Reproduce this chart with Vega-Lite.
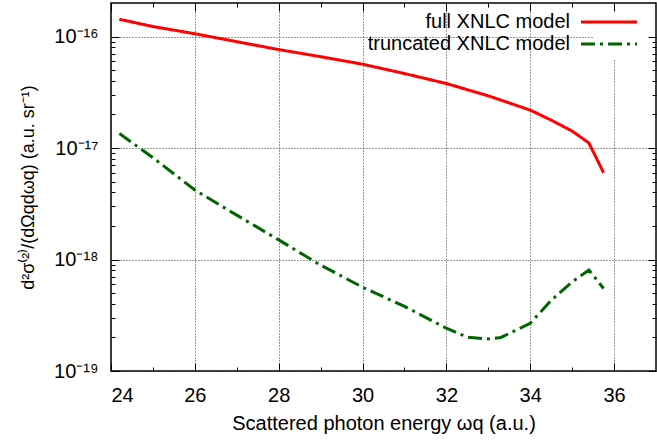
{
  "$schema": "https://vega.github.io/schema/vega-lite/v6.json",
  "width": 545,
  "height": 368,
  "autosize": {"type": "none"},
  "padding": {"left": 111, "top": 3, "right": 1, "bottom": 73},
  "data": {"values": [
    {"w": 24.2, "v": 1.43e-16, "model": "full XNLC model"},
    {"w": 25, "v": 1.23e-16, "model": "full XNLC model"},
    {"w": 26, "v": 1.06e-16, "model": "full XNLC model"},
    {"w": 27, "v": 9.0e-17, "model": "full XNLC model"},
    {"w": 28, "v": 7.64e-17, "model": "full XNLC model"},
    {"w": 29, "v": 6.6e-17, "model": "full XNLC model"},
    {"w": 30, "v": 5.65e-17, "model": "full XNLC model"},
    {"w": 31, "v": 4.66e-17, "model": "full XNLC model"},
    {"w": 32, "v": 3.79e-17, "model": "full XNLC model"},
    {"w": 33, "v": 2.94e-17, "model": "full XNLC model"},
    {"w": 34, "v": 2.19e-17, "model": "full XNLC model"},
    {"w": 34.5, "v": 1.78e-17, "model": "full XNLC model"},
    {"w": 35, "v": 1.42e-17, "model": "full XNLC model"},
    {"w": 35.4, "v": 1.11e-17, "model": "full XNLC model"},
    {"w": 35.75, "v": 6.0e-18, "model": "full XNLC model"},
    {"w": 24.2, "v": 1.35e-17, "model": "truncated XNLC model"},
    {"w": 25, "v": 8.2e-18, "model": "truncated XNLC model"},
    {"w": 26, "v": 4.2e-18, "model": "truncated XNLC model"},
    {"w": 27, "v": 2.5e-18, "model": "truncated XNLC model"},
    {"w": 28, "v": 1.5e-18, "model": "truncated XNLC model"},
    {"w": 29, "v": 8.9e-19, "model": "truncated XNLC model"},
    {"w": 30, "v": 5.65e-19, "model": "truncated XNLC model"},
    {"w": 31, "v": 3.8e-19, "model": "truncated XNLC model"},
    {"w": 32, "v": 2.42e-19, "model": "truncated XNLC model"},
    {"w": 32.5, "v": 2.01e-19, "model": "truncated XNLC model"},
    {"w": 33, "v": 1.94e-19, "model": "truncated XNLC model"},
    {"w": 33.3, "v": 2.0e-19, "model": "truncated XNLC model"},
    {"w": 34, "v": 2.68e-19, "model": "truncated XNLC model"},
    {"w": 34.5, "v": 4.3e-19, "model": "truncated XNLC model"},
    {"w": 35, "v": 6.3e-19, "model": "truncated XNLC model"},
    {"w": 35.4, "v": 8.05e-19, "model": "truncated XNLC model"},
    {"w": 35.75, "v": 5.5e-19, "model": "truncated XNLC model"}
  ]},
  "resolve": {"axis": {"x": "independent", "y": "independent"}},
  "layer": [
    {
      "mark": {"type": "point", "opacity": 0},
      "encoding": {
        "x": {"field": "w", "type": "quantitative", "scale": {"domain": [24, 37], "nice": false, "zero": false},
          "axis": {"orient": "bottom", "values": [25, 27, 29, 31, 33, 35], "labels": false, "tickSize": -4, "domain": false, "grid": false, "title": null, "tickColor": "black", "zindex": 1}},
        "y": {"field": "v", "type": "quantitative", "scale": {"type": "log", "domain": [1e-19, 2e-16], "nice": false},
          "axis": {"orient": "left", "values": [2e-19, 3e-19, 4e-19, 5e-19, 6e-19, 7e-19, 8e-19, 9e-19, 2e-18, 3e-18, 4e-18, 5e-18, 6e-18, 7e-18, 8e-18, 9e-18, 2e-17, 3e-17, 4e-17, 5e-17, 6e-17, 7e-17, 8e-17, 9e-17], "labels": false, "tickSize": -4, "domain": false, "grid": false, "title": null, "tickColor": "black", "zindex": 1}}
      }
    },
    {
      "mark": {"type": "point", "opacity": 0},
      "encoding": {
        "x": {"field": "w", "type": "quantitative",
          "axis": {"orient": "top", "values": [24, 26, 28, 30, 32, 34, 36], "labels": false, "tickSize": -8, "domain": false, "grid": false, "title": null, "tickColor": "black", "zindex": 1}},
        "y": {"field": "v", "type": "quantitative",
          "axis": {"orient": "right", "values": [1e-19, 1e-18, 1e-17, 1e-16], "labels": false, "tickSize": -8, "domain": false, "grid": false, "title": null, "tickColor": "black", "zindex": 1}}
      }
    },
    {
      "mark": {"type": "point", "opacity": 0},
      "encoding": {
        "x": {"field": "w", "type": "quantitative",
          "axis": {"orient": "top", "values": [25, 27, 29, 31, 33, 35], "labels": false, "tickSize": -4, "domain": false, "grid": false, "title": null, "tickColor": "black", "zindex": 1}},
        "y": {"field": "v", "type": "quantitative",
          "axis": {"orient": "right", "values": [2e-19, 3e-19, 4e-19, 5e-19, 6e-19, 7e-19, 8e-19, 9e-19, 2e-18, 3e-18, 4e-18, 5e-18, 6e-18, 7e-18, 8e-18, 9e-18, 2e-17, 3e-17, 4e-17, 5e-17, 6e-17, 7e-17, 8e-17, 9e-17], "labels": false, "tickSize": -4, "domain": false, "grid": false, "title": null, "tickColor": "black", "zindex": 1}}
      }
    },
    {
      "mark": {"type": "line", "strokeWidth": 3, "strokeCap": "butt"},
      "encoding": {
        "x": {"field": "w", "type": "quantitative",
          "axis": {"orient": "bottom", "values": [24, 26, 28, 30, 32, 34, 36], "tickSize": -8, "domain": false, "grid": true, "gridDash": [1, 2], "gridColor": "#333", "gridWidth": 1, "tickColor": "black",
            "labelFontSize": 20, "labelColor": "black", "labelPadding": 22, "labelFont": "Liberation Sans",
            "title": "Scattered photon energy ωq (a.u.)", "titleFontSize": 20, "titleFontWeight": "normal", "titleColor": "black", "titleFont": "Liberation Sans", "titlePadding": 8}},
        "y": {"field": "v", "type": "quantitative",
          "axis": {"orient": "left", "values": [1e-19, 1e-18, 1e-17, 1e-16], "tickSize": -8, "domain": false, "grid": true, "gridDash": [1, 2], "gridColor": "#333", "gridWidth": 1, "tickColor": "black",
            "labelExpr": "datum.value < 5e-19 ? '10⁻¹⁹' : datum.value < 5e-18 ? '10⁻¹⁸' : datum.value < 5e-17 ? '10⁻¹⁷' : '10⁻¹⁶'",
            "labelFontSize": 20, "labelColor": "black", "labelPadding": 21, "labelFont": "Liberation Sans",
            "title": "d²σ⁽²⁾/(dΩqdωq) (a.u. sr⁻¹)", "titleFontSize": 18, "titleFontWeight": "normal", "titleColor": "black", "titleFont": "Liberation Sans", "titlePadding": 16}},
        "color": {"field": "model", "type": "nominal",
          "scale": {"domain": ["full XNLC model", "truncated XNLC model"], "range": ["#ff0000", "#006400"]},
          "legend": {"title": null, "orient": "none", "legendX": 482, "legendY": 3, "symbolType": "M-4,0H4", "symbolSize": 196, "symbolStrokeWidth": 3,
            "labelFontSize": 20, "labelFont": "Liberation Sans", "labelColor": "black", "labelAlign": "right", "labelOffset": -49, "labelLimit": 400, "rowPadding": 2, "padding": 6, "fillColor": "white"}},
        "strokeDash": {"field": "model", "type": "nominal",
          "scale": {"domain": ["full XNLC model", "truncated XNLC model"], "range": [[1, 0], [14, 5, 3, 5]]},
          "legend": {"title": null}}
      }
    }
  ],
  "config": {
    "view": {"stroke": "black", "strokeWidth": 1.5},
    "font": "Liberation Sans"
  }
}
